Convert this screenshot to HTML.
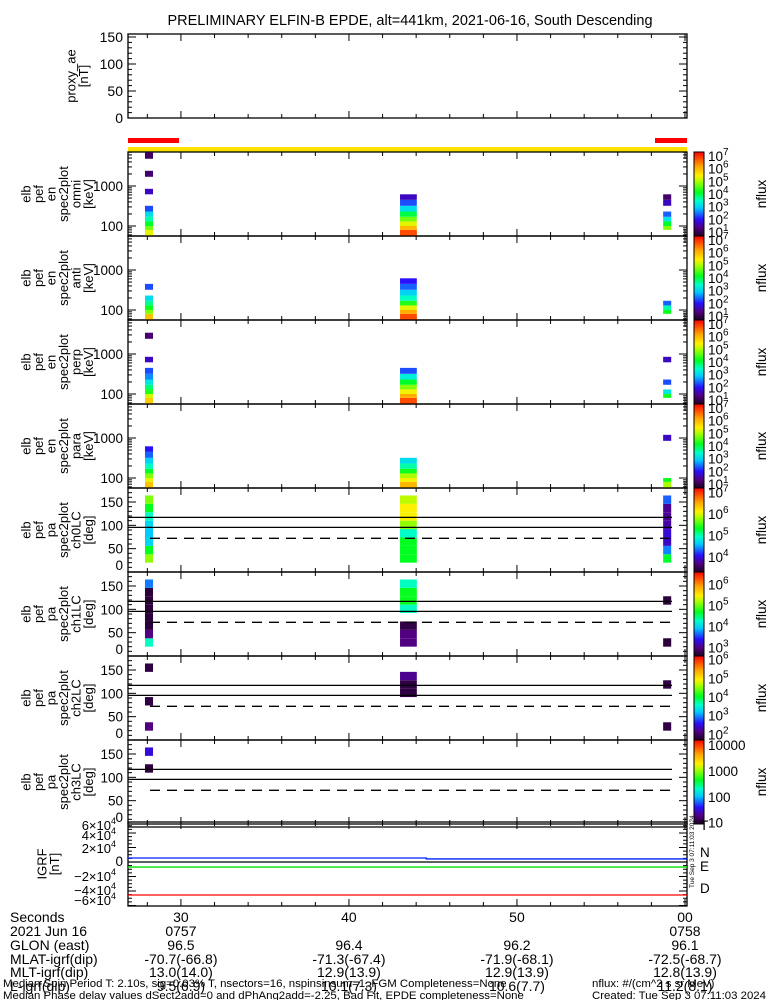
<!DOCTYPE html>
<html><head><meta charset="utf-8"><style>
html,body{margin:0;padding:0;background:#fff;}
svg text{font-family:"Liberation Sans",sans-serif;fill:#000;}
</style></head><body>
<svg id="chart" xmlns="http://www.w3.org/2000/svg" width="775" height="1000" viewBox="0 0 775 1000">
<rect x="0" y="0" width="775" height="1000" fill="#fff"/>
<text x="410" y="25" font-size="14.5" text-anchor="middle">PRELIMINARY ELFIN-B EPDE, alt=441km, 2021-06-16, South Descending</text>
<g id="g"></g>
</svg>
<script>
// ---- data ----
const colTimes=[27.86,43.04,58.7];
const colWidths=[0.48,1.0,0.48];
const enEdges=[55,80,100,130,170,230,320,450,620,850,1200,1700,2400,3400,4800,7000];
const omniL=[5.3,4.7,4.1,3.6,3.1,2.3,null,null,1.7,null,null,1.2,null,null,1.15];
const omniM=[6.8,6.0,5.3,4.7,4.0,3.1,2.3,1.7,null,null,null,null,null,null,null];
const omniR=[null,4.8,4.1,3.2,2.4,null,1.7,1.2,null,null,null,null,null,null,null];
const antiL=[5.9,4.8,4.2,3.7,3.1,null,2.3,null,null,null,null,null,null,null,null];
const antiM=[6.8,6.1,5.3,4.3,3.5,3.0,2.4,2.0,null,null,null,null,null,null,null];
const antiR=[null,4.2,3.6,2.4,null,null,null,null,null,null,null,null,null,null,null];
const perpL=[5.8,5.2,4.3,3.8,3.2,2.6,2.3,null,1.7,null,null,null,1.25,null,null];
const perpM=[6.8,6.1,5.4,4.8,4.1,3.3,2.3,null,null,null,null,null,null,null,null];
const perpR=[null,4.2,3.2,null,2.3,null,null,null,1.7,null,null,null,null,null,null];
const paraL=[5.9,5.3,4.8,4.1,3.5,3.0,2.4,2.0,null,null,null,null,null,null,null];
const paraM=[6.0,5.4,5.0,4.2,3.6,3.1,null,null,null,null,null,null,null,null,null];
const paraR=[5.0,4.2,null,null,null,null,null,null,null,1.7,null,null,null,null,null];
const paEdges=[20,38,56,74,92,110,128,146,164];
const ch0L=[5.76,5.33,4.67,4.6,4.67,4.94,5.33,5.7];
const ch0M=[5.33,5.33,5.33,4.94,5.76,6.1,6.1,5.9];
const ch0R=[5.3,4.4,3.9,3.95,3.8,3.75,3.75,4.3];
const ch1L=[4.3,3.0,2.7,2.7,2.7,2.7,2.7,3.7];
const ch1M=[3.0,3.0,2.75,null,4.3,4.7,4.7,4.3];
const ch1R=[2.7,null,null,null,null,2.7,null,null];
const ch2L=[2.15,null,null,1.85,null,null,null,1.85];
const ch2M=[null,null,null,null,1.85,1.85,2.2,null];
const ch2R=[1.85,null,null,null,null,1.85,null,null];
const ch3L=[null,null,null,null,null,1.05,null,1.5];
const ch3M=[null,null,null,null,null,null,null,null];
const ch3R=[null,null,null,null,null,null,null,null];
const lossConeDeg=[117,95.7];
const antiLossConeDeg=[72.2];
const igrfNames=["T","N","E","D"];
const igrfValues=[48300,5500,-7000,-45500];
const igrfNLate=4200;
const xTickLabels=["30","40","50","00"];
const xTickTimes=[30,40,50,60];
const rowNames=["Seconds","2021 Jun 16","GLON (east)","MLAT-igrf(dip)","MLT-igrf(dip)","L-igrf(dip)"];
const rowHour=["0757","","","0758"];
const rowGlon=["96.5","96.4","96.2","96.1"];
const rowMlat=["-70.7(-66.8)","-71.3(-67.4)","-71.9(-68.1)","-72.5(-68.7)"];
const rowMlt=["13.0(14.0)","12.9(13.9)","12.9(13.9)","12.8(13.9)"];
const rowL=["9.5(6.9)","10.1(7.3)","10.6(7.7)","11.2(8.1)"];

// ---- layout ----
const NS="http://www.w3.org/2000/svg";
const G=document.getElementById('g');
const X0=128,X1=687,T0=26.85,T1=60.12;
const xs=t=>X0+(t-T0)/(T1-T0)*(X1-X0);
function el(tag,at,parent){const e=document.createElementNS(NS,tag);for(const k in at)e.setAttribute(k,at[k]);(parent||G).appendChild(e);return e;}
function txt(s,x,y,size,anchor,parent){const e=el('text',{x:x,y:y,'font-size':size,'text-anchor':anchor||'start'},parent);e.textContent=s;return e;}
const stops=[[0,[30,0,36]],[0.1,[80,0,128]],[0.2,[40,16,255]],[0.33,[0,200,255]],[0.42,[0,255,200]],[0.52,[0,255,32]],[0.65,[170,255,0]],[0.72,[255,240,0]],[0.83,[255,165,0]],[1,[255,0,0]]];
function cmap(f){f=Math.max(0,Math.min(1,f));for(let i=1;i<stops.length;i++){if(f<=stops[i][0]){const a=stops[i-1],b=stops[i];const u=(f-a[0])/(b[0]-a[0]);const c=a[1].map((v,j)=>Math.round(v+(b[1][j]-v)*u));return `rgb(${c[0]},${c[1]},${c[2]})`;}}return 'rgb(255,0,0)';}

function xTicks(top,bot,g){
  for(let t=28;t<=60;t+=2){const x=xs(t);const major=(t%10===0);const L=major?7:4;
    el('line',{x1:x,y1:bot,x2:x,y2:bot-L,stroke:'#000','stroke-width':1},g);
    el('line',{x1:x,y1:top,x2:x,y2:top+L,stroke:'#000','stroke-width':1},g);}
}
function frame(top,bot,name){
  const g=el('g',{});
  
  
  el('rect',{x:X0,y:top,width:X1-X0,height:bot-top,fill:'none',stroke:'#000','stroke-width':1.3},g);
  xTicks(top,bot,g);
  return g;
}
function ylabel(lines,cy,g,right){
  const n=lines.length;right=right||93;
  lines.forEach((s,i)=>{const x=right-(n-1-i)*12.5;
    const t=el('text',{x:x,y:cy,'font-size':13,'text-anchor':'middle',transform:`rotate(-90 ${x} ${cy})`},g);t.textContent=s;});
}
function colorbar(top,bot,vmin,vmax,labels,g){
  const cb=el('g',{},g);
  
  
  const h=bot-top;
  for(let i=0;i<h;i++){el('rect',{x:694,y:top+i,width:10,height:1.2,fill:cmap(1-(i+0.5)/h)},cb);}
  el('rect',{x:694,y:top,width:10,height:h,fill:'none',stroke:'#000','stroke-width':1},cb);
  labels.forEach(v=>{const y=bot-(v-vmin)/(vmax-vmin)*h+5;
    if(v>=10){txt(String(v),708,y,13.5,'start',cb);}
    else{const t=el('text',{x:708,y:y,'font-size':13.5},cb);t.textContent='10';const s=el('tspan',{dy:-6,'font-size':10},t);s.textContent=String(v);}
  });
  const cy=(top+bot)/2;const t=el('text',{x:766,y:cy,'font-size':13.5,'text-anchor':'middle',transform:`rotate(-90 766 ${cy})`},cb);t.textContent='nflux';
}

// proxy_ae panel
{const top=34,bot=118;const g=frame(top,bot,'proxy-ae-panel');
 const ys=v=>bot-0.54*v;
 for(let v=0;v<=150;v+=10){const y=ys(v);const L=(v%50===0)?8:4;el('line',{x1:X0,y1:y,x2:X0+L,y2:y,stroke:'#000'},g);el('line',{x1:X1,y1:y,x2:X1-L,y2:y,stroke:'#000'},g);}
 [0,50,100,150].forEach(v=>txt(String(v),123,ys(v)+5,14,'end',g));
 ylabel(['proxy_ae','[nT]'],76,g,88);
}
// bars
{const b=el('g',{});
 el('rect',{x:128,y:138,width:51,height:5,fill:'#ff0000'},b);
 el('rect',{x:655,y:138,width:32,height:5,fill:'#ff0000'},b);
 el('rect',{x:128,y:147,width:559,height:5,fill:'#ffe000'},b);}

// energy panels
const enPanels=[['omni',[omniL,omniM,omniR]],['anti',[antiL,antiM,antiR]],['perp',[perpL,perpM,perpR]],['para',[paraL,paraM,paraR]]];
enPanels.forEach((p,pi)=>{
  const top=152+pi*84,bot=top+84;
  const g=frame(top,bot,'energy-spectrogram-'+p[0]);
  const ys=e=>top+74-40*(Math.log10(e)-2);
  const vmin=0.7,vmax=7.3;
  p[1].forEach((col,ci)=>{col.forEach((v,bi)=>{if(v===null)return;
    const y1=Math.max(top,ys(enEdges[bi+1])),y2=Math.min(bot,ys(enEdges[bi]));
    const r=el('rect',{x:xs(colTimes[ci]),y:y1,width:xs(colTimes[ci]+colWidths[ci])-xs(colTimes[ci]),height:y2-y1,fill:cmap((v-vmin)/(vmax-vmin))},g);
    
    });});
  for(let d=1;d<=4;d++){for(let m=1;m<=9;m++){const e=m*Math.pow(10,d);const y=ys(e);if(y<top||y>bot)continue;const L=(m===1)?8:4;
    el('line',{x1:X0,y1:y,x2:X0+L,y2:y,stroke:'#000'},g);el('line',{x1:X1,y1:y,x2:X1-L,y2:y,stroke:'#000'},g);}}
  txt('1000',123,ys(1000)+5,13.5,'end',g);txt('100',123,ys(100)+5,13.5,'end',g);
  ylabel(['elb','pef','en','spec2plot',p[0],'[keV]'],(top+bot)/2,g);
  colorbar(top,bot,vmin,vmax,[1,2,3,4,5,6,7],g);
});

// pitch angle panels
const paPanels=[['ch0LC',[ch0L,ch0M,ch0R],3.3,7.2,[4,5,6,7]],['ch1LC',[ch1L,ch1M,ch1R],2.6,6.6,[3,4,5,6]],['ch2LC',[ch2L,ch2M,ch2R],1.7,6.2,[2,3,4,5,6]],['ch3LC',[ch3L,ch3M,ch3R],0.95,4.2,[10,100,1000,10000]]];
paPanels.forEach((p,pi)=>{
  const top=488+pi*84,bot=top+84;
  const g=frame(top,bot,'pitch-angle-spectrogram-'+p[0]);
  const ys=d=>bot-d*84/180;
  const vmin=p[2],vmax=p[3];
  p[1].forEach((col,ci)=>{col.forEach((v,bi)=>{if(v===null)return;
    const y1=ys(paEdges[bi+1]),y2=ys(paEdges[bi]);
    const r=el('rect',{x:xs(colTimes[ci]),y:y1,width:xs(colTimes[ci]+colWidths[ci])-xs(colTimes[ci]),height:y2-y1,fill:cmap((v-vmin)/(vmax-vmin))},g);
    
    });});
  lossConeDeg.forEach(d=>{const l=el('line',{x1:X0,y1:ys(d),x2:672,y2:ys(d),stroke:'#000','stroke-width':1.3},g);});
  antiLossConeDeg.forEach(d=>{const l=el('line',{x1:150,y1:ys(d),x2:672,y2:ys(d),stroke:'#000','stroke-width':1.3,'stroke-dasharray':'10,7'},g);});
  for(let d=0;d<=180;d+=10){const y=ys(d);const L=(d%50===0)?8:4;el('line',{x1:X0,y1:y,x2:X0+L,y2:y,stroke:'#000'},g);el('line',{x1:X1,y1:y,x2:X1-L,y2:y,stroke:'#000'},g);}
  [['150',150],['100',100],['50',50]].forEach(a=>txt(a[0],123,ys(a[1])+5,13.5,'end',g));
  txt('0',123,bot-2,13.5,'end',g);
  ylabel(['elb','pef','pa','spec2plot',p[0],'[deg]'],(top+bot)/2,g);
  let labs=p[4];
  if(pi<3){colorbar(top,bot,vmin,vmax,labs,g);}
  else{colorbar(top,bot,vmin,vmax,[],g);labs.forEach(v=>txt(String(v),708,bot-(Math.log10(v)-vmin)/(vmax-vmin)*84+5,13.5,'start',g));}
});

// IGRF panel
{const top=822,bot=906;const g=frame(top,bot,'igrf-panel');
 const ys=v=>862-v*14.5/20000;
 for(let v=-60000;v<=60000;v+=5000){const y=ys(v);if(y<top||y>bot)continue;const L=(v%20000===0)?8:4;el('line',{x1:X0,y1:y,x2:X0+L,y2:y,stroke:'#000'},g);el('line',{x1:X1,y1:y,x2:X1-L,y2:y,stroke:'#000'},g);}
 [[6,826],[4,836],[2,849],[-2,877],[-4,891],[-6,901]].forEach(a=>{const t=el('text',{x:116,y:a[1]+4,'font-size':13,'text-anchor':'end'},g);t.textContent=(a[0]<0?'−':'')+Math.abs(a[0])+'×10';const s=el('tspan',{dy:-6,'font-size':9},t);s.textContent='4';});
 txt('0',123,866,13.5,'end',g);
 ylabel(['IGRF','[nT]'],864,g,59);
 const cols=['#000','#0020ff','#00e000','#ff0000'];
 igrfValues.forEach((v,i)=>{let l;
   if(igrfNames[i]==='N'){l=el('path',{d:`M${X0},${ys(v)}H${xs(44.6)}V${ys(igrfNLate)}H${X1}`,stroke:cols[i],fill:'none','stroke-width':1.3},g);}
   else l=el('line',{x1:X0,y1:ys(v),x2:X1,y2:ys(v),stroke:cols[i],'stroke-width':1.3},g);
   
   
   const t=txt(igrfNames[i],700,ys(v)+(i===0?3:i===3?-2:i===1?-1:4),13.5,'start',g);t.setAttribute('fill',cols[i]);});
 el('line',{x1:X0,y1:862,x2:X1,y2:862,stroke:'#000','stroke-width':1.3},g);
 const v=el('text',{x:694,y:888,'font-size':6.5,transform:'rotate(-90 694 888)'},g);v.textContent='Tue Sep  3 07:11:03 2024';
}

// bottom annotation table
{const g=el('g',{});
 const ry=[922,936,950,964,977,991];
 rowNames.forEach((s,i)=>txt(s,10,ry[i],14,'start',g));
 xTickLabels.forEach((s,i)=>txt(s,xs(xTickTimes[i]),ry[0],14,'middle',g));
 rowHour.forEach((s,i)=>{if(s)txt(s,xs(xTickTimes[i]),ry[1],14,'middle',g);});
 [rowGlon,rowMlat,rowMlt,rowL].forEach((arr,r)=>arr.forEach((s,i)=>txt(s,xs(xTickTimes[i]),ry[r+2],14,'middle',g)));
 txt('Median Spin Period T: 2.10s, sig=0.03% T, nsectors=16, nspinsinsum=1, FGM Completeness=None',3,987,11.4,'start',g);
 txt('Median Phase delay values dSect2add=0 and dPhAng2add=-2.25, Bad Fit, EPDE completeness=None',3,999,11.4,'start',g);
 txt('nflux: #/(cm^2 s sr MeV)',592,987,11.4,'start',g);
 txt('Created: Tue Sep  3 07:11:03 2024',592,999,11.4,'start',g);
}
</script>
</body></html>
